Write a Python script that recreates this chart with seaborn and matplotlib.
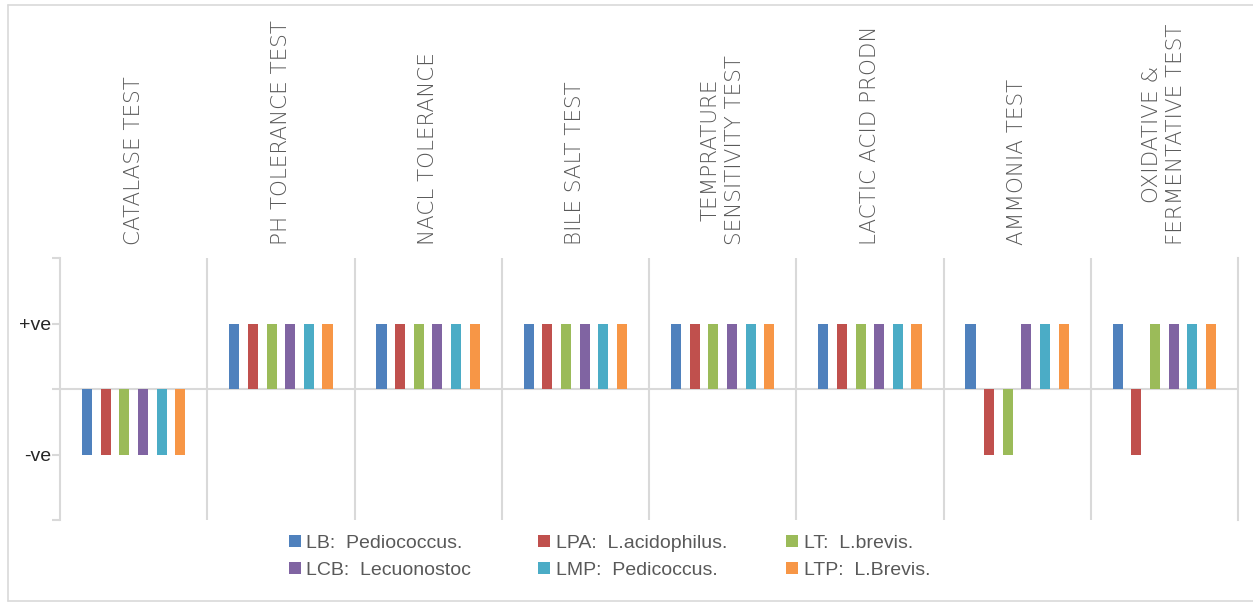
import numpy as np
import pandas as pd
import matplotlib
matplotlib.use("Agg")
import matplotlib.pyplot as plt
from matplotlib.patches import Patch
from matplotlib.lines import Line2D
import seaborn as sns

# Test names (category axis, shown along the top)
tests = [
    "CATALASE TEST",
    "PH TOLERANCE TEST",
    "NACL TOLERANCE",
    "BILE SALT TEST",
    "TEMPRATURE\nSENSITIVITY TEST",
    "LACTIC ACID PRODN",
    "AMMONIA TEST",
    "OXIDATIVE &\nFERMENTATIVE TEST",
]

# Isolates (legend entries)
strains = [
    "LB:  Pediococcus.",
    "LPA:  L.acidophilus.",
    "LT:  L.brevis.",
    "LCB:  Lecuonostoc",
    "LMP:  Pedicoccus.",
    "LTP:  L.Brevis.",
]

# Result per isolate and test: +1 = positive (+ve), -1 = negative (-ve)
lb = [-1, 1, 1, 1, 1, 1, 1, 1]
lpa = [-1, 1, 1, 1, 1, 1, -1, -1]
lt = [-1, 1, 1, 1, 1, 1, -1, 1]
lcb = [-1, 1, 1, 1, 1, 1, 1, 1]
lmp = [-1, 1, 1, 1, 1, 1, 1, 1]
ltp = [-1, 1, 1, 1, 1, 1, 1, 1]

# Y axis ticks and their labels
y_ticks = [-2, -1, 0, 1, 2]
y_labels = ["", "-ve", "", "+ve", ""]

colors = ["#4F81BD", "#C0504D", "#9BBB59", "#8064A2", "#4BACC6", "#F79646"]
grid_col = "#D9D9D9"
text_col = "#595959"

series = [lb, lpa, lt, lcb, lmp, ltp]
df = pd.DataFrame(
    [(t, s, v) for s, vals in zip(strains, series) for t, v in zip(tests, vals)],
    columns=["test", "strain", "value"],
)

sns.set_theme(style="white")
legend_font = ["Liberation Sans Narrow", "Liberation Sans", "DejaVu Sans"]
label_font = ["DejaVu Sans"]

W, H = 1253, 602
fig = plt.figure(figsize=(W / 100, H / 100), dpi=100)
fig.patch.set_facecolor("white")

# chart border (left, top and bottom edges)
bx0, bx1, by0, by1 = 8 / W, 1.0, 1.5 / H, 1 - 5 / H
for xs, ys in [([bx0, bx0], [by0, by1]), ([bx0, bx1], [by1, by1]), ([bx0, bx1], [by0, by0])]:
    fig.add_artist(Line2D(xs, ys, transform=fig.transFigure, color=grid_col, linewidth=1.2))

ax = fig.add_axes([60 / W, 1 - 520 / H, 1178 / W, 262 / H])

sns.barplot(data=df, x="test", y="value", hue="strain", hue_order=strains,
            palette=colors, width=0.76, gap=0.46, ax=ax, legend=False,
            saturation=1, linewidth=0, err_kws={"linewidth": 0})

ax.set_xlim(-0.5, len(tests) - 0.5)
ax.set_ylim(-2, 2)
ax.set_xlabel("")
ax.set_ylabel("")

# separators between tests and the zero line
for b in np.arange(0.5, len(tests) - 0.5, 1):
    ax.axvline(b, color=grid_col, linewidth=1.5, zorder=0)
ax.axhline(0, color=grid_col, linewidth=1.5, zorder=0)

for side in ["top", "bottom"]:
    ax.spines[side].set_visible(False)
for side in ["left", "right"]:
    ax.spines[side].set_visible(True)
    ax.spines[side].set_color(grid_col)
    ax.spines[side].set_linewidth(1.5)

ax.set_yticks(y_ticks)
ax.set_yticklabels(y_labels, family=legend_font, fontsize=14, color="#262626")
ax.tick_params(axis="y", left=True, length=5.5, width=1.5, color=grid_col, pad=1)

ax.xaxis.tick_top()
ax.set_xticks(range(len(tests)))
ax.set_xticklabels(tests, rotation=90, family=label_font, fontsize=15.5,
                   fontweight="light", color=text_col, ha="center", va="bottom",
                   linespacing=1.25)
ax.tick_params(axis="x", top=False, bottom=False, length=0, pad=9.5)

# legend in three columns of two entries each
handles = [Patch(facecolor=c, edgecolor="none") for c in colors]
col_x = [289, 538, 786]
for j in range(3):
    idx = [j, j + 3]
    leg = fig.legend([handles[i] for i in idx], [strains[i] for i in idx],
                     loc="upper left", bbox_to_anchor=(col_x[j] / W, 1 - 535 / H),
                     frameon=False, ncol=1, handlelength=0.6, handleheight=0.6,
                     handletextpad=0.3, labelspacing=0.5, borderaxespad=0,
                     borderpad=0, prop={"family": legend_font, "size": 14})
    for t in leg.get_texts():
        t.set_color(text_col)

fig.savefig("out.png", dpi=100, facecolor="white")
